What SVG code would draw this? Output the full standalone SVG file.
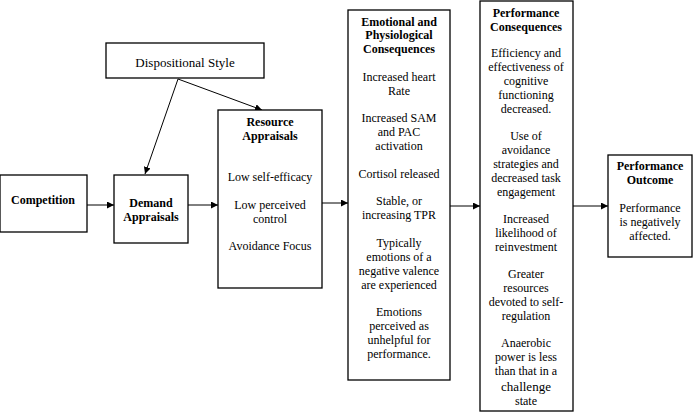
<svg xmlns="http://www.w3.org/2000/svg" width="693" height="412" viewBox="0 0 693 412">
<style>
rect{fill:#fff;stroke:#000;stroke-width:1.3}
text{font-family:"Liberation Serif",serif;font-size:12px;text-anchor:middle;fill:#000}
.b{font-weight:bold}
line{stroke:#000;stroke-width:1}
</style>
<defs><marker id="a" viewBox="0 0 10 10" refX="10" refY="5" markerWidth="7" markerHeight="7" orient="auto" markerUnits="userSpaceOnUse"><path d="M0,0L10,5L0,10z"/></marker></defs>
<rect width="693" height="412" style="fill:#fff;stroke:none"/>
<g id="connectors">
<line x1="87" y1="205" x2="114" y2="205" marker-end="url(#a)"/>
<line x1="188" y1="205" x2="218" y2="205" marker-end="url(#a)"/>
<line x1="178" y1="79" x2="145" y2="174" marker-end="url(#a)"/>
<line x1="178" y1="79" x2="262" y2="110" marker-end="url(#a)"/>
<line x1="322" y1="203" x2="348" y2="203" marker-end="url(#a)"/>
<line x1="450" y1="206" x2="480" y2="206" marker-end="url(#a)"/>
<line x1="573" y1="206" x2="608" y2="206" marker-end="url(#a)"/>
</g>
<g id="disp"><rect x="106" y="43" width="158" height="35"/><text x="185" y="67" style="font-size:13px">Dispositional Style</text></g>
<g id="comp"><rect x="0" y="175" width="87" height="57"/><text class="b" x="43" y="204">Competition</text></g>
<g id="demand"><rect x="114" y="175" width="74" height="68"/><text class="b" x="151" y="207">Demand</text><text class="b" x="151" y="221">Appraisals</text></g>
<g id="resource"><rect x="218" y="110" width="104" height="178"/>
<text class="b" x="270" y="126">Resource</text><text class="b" x="270" y="140">Appraisals</text>
<text x="270" y="181">Low self-efficacy</text><text x="270" y="209">Low perceived</text><text x="270" y="223">control</text><text x="270" y="250">Avoidance Focus</text></g>
<g id="emo"><rect x="348" y="10" width="102" height="370"/>
<text class="b" x="399" y="26">Emotional and</text><text class="b" x="399" y="39">Physiological</text><text class="b" x="399" y="53">Consequences</text>
<text x="399" y="81">Increased heart</text><text x="399" y="95">Rate</text>
<text x="399" y="122">Increased SAM</text><text x="399" y="136">and PAC</text><text x="399" y="150">activation</text>
<text x="399" y="178">Cortisol released</text>
<text x="399" y="205">Stable, or</text><text x="399" y="219">increasing TPR</text>
<text x="399" y="247">Typically</text><text x="399" y="261">emotions of a</text><text x="399" y="275">negative valence</text><text x="399" y="289">are experienced</text>
<text x="399" y="316">Emotions</text><text x="399" y="330">perceived as</text><text x="399" y="344">unhelpful for</text><text x="399" y="358">performance.</text></g>
<g id="perf"><rect x="480" y="1" width="93" height="410"/>
<text class="b" x="526" y="17">Performance</text><text class="b" x="526" y="31">Consequences</text>
<text x="526" y="57">Efficiency and</text><text x="526" y="71">effectiveness of</text><text x="526" y="85">cognitive</text><text x="526" y="99">functioning</text><text x="526" y="113">decreased.</text>
<text x="526" y="140">Use of</text><text x="526" y="154">avoidance</text><text x="526" y="168">strategies and</text><text x="526" y="182">decreased task</text><text x="526" y="196">engagement</text>
<text x="526" y="223">Increased</text><text x="526" y="237">likelihood of</text><text x="526" y="251">reinvestment</text>
<text x="526" y="278">Greater</text><text x="526" y="292">resources</text><text x="526" y="306">devoted to self-</text><text x="526" y="320">regulation</text>
<text x="526" y="347">Anaerobic</text><text x="526" y="361">power is less</text><text x="526" y="375">than that in a</text><text x="526" y="391" style="font-size:13px">challenge</text><text x="526" y="405">state</text></g>
<g id="outcome"><rect x="608" y="155" width="84" height="102"/>
<text class="b" x="650" y="170">Performance</text><text class="b" x="650" y="184">Outcome</text>
<text x="650" y="212">Performance</text><text x="650" y="226">is negatively</text><text x="650" y="240">affected.</text></g>
</svg>
